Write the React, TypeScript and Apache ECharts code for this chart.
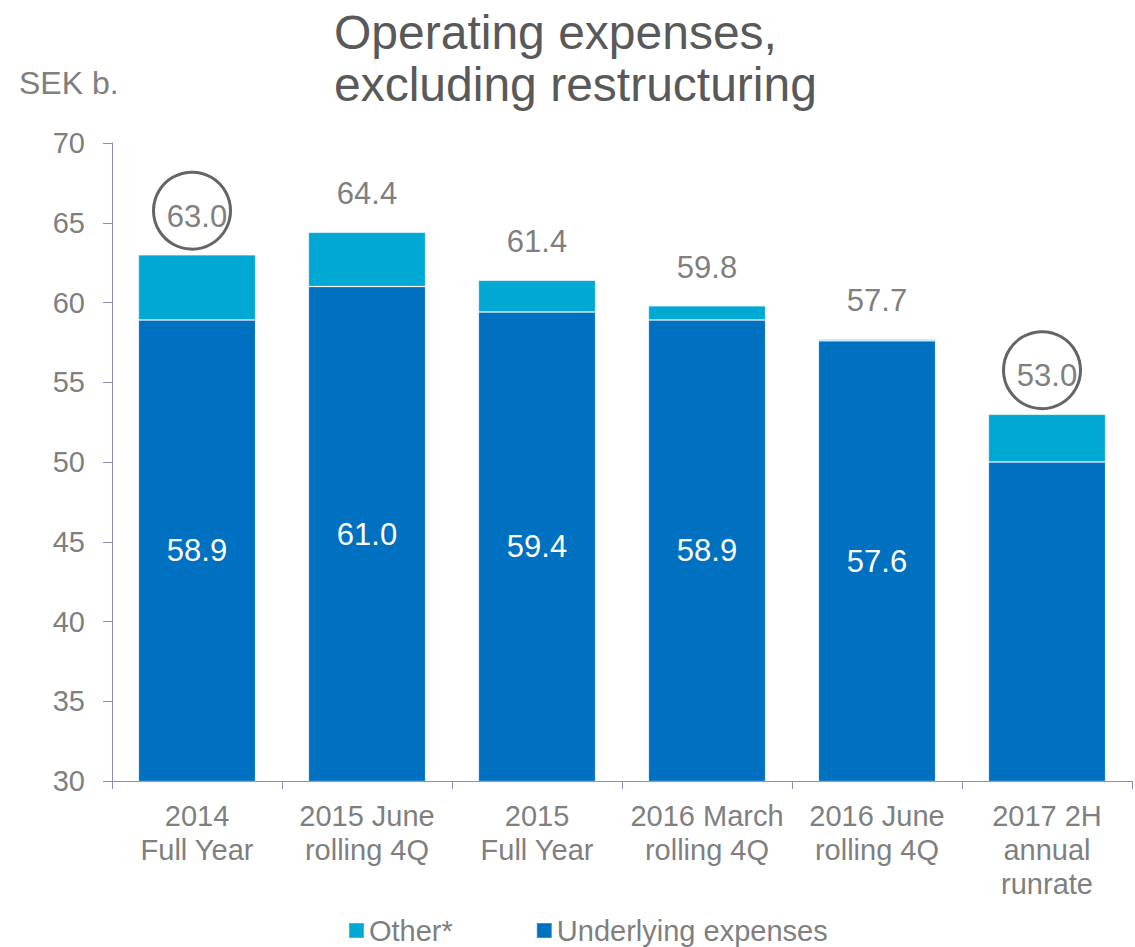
import React, { useEffect, useRef } from "react";
import * as echarts from "echarts";

// Periods on the category axis
const categories = [
  "2014\nFull Year",
  "2015 June\nrolling 4Q",
  "2015\nFull Year",
  "2016 March\nrolling 4Q",
  "2016 June\nrolling 4Q",
  "2017 2H\nannual\nrunrate",
];

// SEK billions
const underlying = [58.9, 61.0, 59.4, 58.9, 57.6, 50.0];
const other = [4.1, 3.4, 2.0, 0.9, 0.1, 3.0];
// Which underlying values carry an inside label
const showUnderlyingLabel = [true, true, true, true, true, false];
// Totals that are highlighted with a ring
const circled = [0, 5];

const yTicks = { min: 30, max: 70, step: 5 };

const FONT = "'Liberation Sans', Arial, sans-serif";
const GREY = "#7F7F7F";
const AXIS = "#8C8CC0";

export default function App() {
  const ref = useRef<HTMLDivElement>(null);

  useEffect(() => {
    document.body.style.margin = "0";
    if (!ref.current) return;
    const chart = echarts.init(ref.current, null, { renderer: "svg" });

    const totals = underlying.map((u, i) => +(u + other[i]).toFixed(1));

    chart.setOption({
      animation: false,
      textStyle: { fontFamily: FONT },
      title: {
        text: "Operating expenses,\nexcluding restructuring",
        left: 334,
        top: 6,
        padding: 0,
        textStyle: {
          fontFamily: FONT,
          fontSize: 48,
          lineHeight: 52,
          fontWeight: "normal",
          color: "#595959",
        },
      },
      graphic: [
        {
          type: "text",
          left: 19,
          top: 67,
          style: { text: "SEK b.", fontFamily: FONT, fontSize: 32, fill: GREY },
        },
      ],
      legend: {
        data: ["Other*", "Underlying expenses"],
        left: 348,
        top: 916,
        padding: 0,
        icon: "rect",
        itemWidth: 15,
        itemHeight: 15,
        itemGap: 83,
        textStyle: { fontFamily: FONT, fontSize: 29, color: GREY },
      },
      grid: { left: 112, right: 3, top: 143, bottom: 166, containLabel: false },
      xAxis: {
        type: "category",
        data: categories,
        axisLine: { show: true, lineStyle: { color: AXIS, width: 1 } },
        axisTick: { show: true, length: 8, lineStyle: { color: AXIS } },
        axisLabel: {
          fontFamily: FONT,
          fontSize: 29,
          lineHeight: 34,
          color: GREY,
          margin: 18,
          interval: 0,
        },
      },
      yAxis: {
        type: "value",
        min: yTicks.min,
        max: yTicks.max,
        interval: yTicks.step,
        axisLine: { show: true, lineStyle: { color: AXIS, width: 1 } },
        axisTick: { show: true, length: 9, lineStyle: { color: AXIS } },
        splitLine: { show: false },
        axisLabel: { fontFamily: FONT, fontSize: 29, color: GREY, margin: 27 },
      },
      series: [
        {
          name: "Underlying expenses",
          type: "bar",
          stack: "opex",
          barWidth: "69%",
          itemStyle: {
            color: "#0070C0",
            borderColor: "rgba(255,255,255,0.22)",
            borderWidth: 1,
          },
          data: underlying.map((v, i) => ({
            value: v,
            label: { show: showUnderlyingLabel[i] },
          })),
          label: {
            show: true,
            position: "inside",
            fontFamily: FONT,
            fontSize: 31,
            color: "#FFFFFF",
            formatter: (p: any) => Number(p.value).toFixed(1),
          },
        },
        {
          name: "Other*",
          type: "bar",
          stack: "opex",
          barWidth: "69%",
          itemStyle: {
            color: "#00A9D4",
            borderColor: "rgba(255,255,255,0.22)",
            borderWidth: 1,
          },
          data: other,
          label: {
            show: true,
            position: "top",
            distance: 23,
            fontFamily: FONT,
            fontSize: 31,
            color: GREY,
            formatter: (p: any) => totals[p.dataIndex].toFixed(1),
          },
        },
        {
          name: "ring",
          type: "scatter",
          symbol: "circle",
          symbolSize: 77,
          symbolOffset: [-5, -44],
          silent: true,
          z: 5,
          itemStyle: {
            color: "rgba(0,0,0,0)",
            borderColor: "#3F3F3F",
            borderWidth: 3,
          },
          data: totals.map((t, i) => (circled.includes(i) ? t : "-")),
        },
      ],
    });

    return () => chart.dispose();
  }, []);

  return <div ref={ref} style={{ width: 1135, height: 947 }} />;
}
